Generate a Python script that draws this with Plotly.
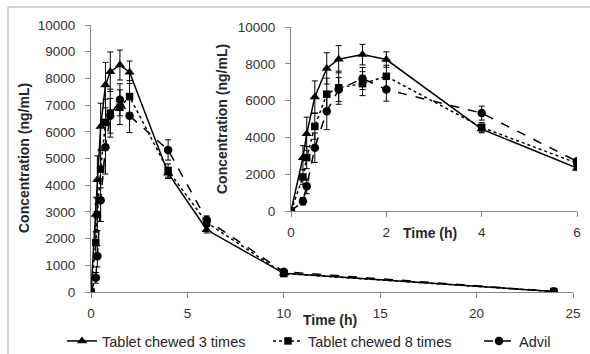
import plotly.graph_objects as go

time_h = [0, 0.25, 0.33, 0.5, 0.75, 1, 1.5, 2, 4, 6, 10, 24]

chew3 = [0, 2900, 4200, 6200, 7750, 8250, 8500, 8230, 4450, 2330, 700, 20]
chew3_sd = [0, 650, 900, 870, 850, 740, 560, 420, 200, 120, 60, 10]

chew8 = [0, 1850, 2900, 4600, 6350, 6700, 6920, 7320, 4550, 2600, 690, 20]
chew8_sd = [0, 400, 600, 700, 870, 900, 650, 600, 250, 150, 60, 10]

advil = [0, 530, 1340, 3440, 5420, 6600, 7200, 6600, 5320, 2700, 760, 20]
advil_sd = [0, 200, 400, 800, 1000, 650, 600, 630, 380, 150, 60, 10]

series_names = ["Tablet chewed 3 times", "Tablet chewed 8 times", "Advil"]
main_xticks = [0, 5, 10, 15, 20, 25]
main_yticks = [0, 1000, 2000, 3000, 4000, 5000, 6000, 7000, 8000, 9000, 10000]
inset_xticks = [0, 2, 4, 6]
inset_yticks = [0, 2000, 4000, 6000, 8000, 10000]

W, H = 590, 354
styles = [
    dict(dash="solid", symbol="triangle-up", size=9),
    dict(dash="dot", symbol="square", size=7.5),
    dict(dash="dash", symbol="circle", size=8.5),
]
legend_ids = ["legend", "legend2", "legend3"]
legend_text_x = [104, 310, 521]
data = [(chew3, chew3_sd), (chew8, chew8_sd), (advil, advil_sd)]

fig = go.Figure()
for (vals, sd), name, st, lg in zip(data, series_names, styles, legend_ids):
    for xa, ya, show in [("x", "y", True), ("x2", "y2", False)]:
        fig.add_trace(go.Scatter(
            x=time_h, y=vals, name=name, mode="lines+markers",
            xaxis=xa, yaxis=ya, showlegend=show, legend=lg,
            line=dict(color="black", width=1.5, dash=st["dash"]),
            marker=dict(symbol=st["symbol"], size=st["size"], color="black"),
            error_y=dict(type="data", array=sd, visible=True, color="black",
                         thickness=1, width=3),
        ))

tickfont = dict(family="Liberation Sans", size=13.5, color="#333333")
axis_common = dict(showgrid=False, zeroline=False, showline=True,
                   linecolor="#868686", linewidth=1, ticks="outside",
                   ticklen=5, tickcolor="#868686", tickfont=tickfont,
                   automargin=False, tickformat="d")

legend_font = dict(family="Liberation Sans", size=14.5, color="#262626")
legends = {}
for lg, tx in zip(legend_ids, legend_text_x):
    legends[lg] = dict(orientation="h", x=(tx - 42) / W, y=1 - 341 / H,
                       xanchor="left", yanchor="middle", font=legend_font,
                       bgcolor="rgba(0,0,0,0)", borderwidth=0)

fig.update_layout(
    width=W, height=H,
    margin=dict(l=0, r=0, t=0, b=0, autoexpand=False),
    paper_bgcolor="white", plot_bgcolor="rgba(0,0,0,0)",
    xaxis=dict(domain=[91 / W, 573 / W], range=[0, 25], tickvals=main_xticks,
               anchor="y", ticklabelstandoff=4, **axis_common),
    yaxis=dict(domain=[(H - 292) / H, (H - 25) / H], range=[0, 10000],
               tickvals=main_yticks, anchor="x", ticklabelstandoff=7, **axis_common),
    xaxis2=dict(domain=[291 / W, 577 / W], range=[0, 6], tickvals=inset_xticks,
                anchor="y2", ticklabelstandoff=4, **axis_common),
    yaxis2=dict(domain=[(H - 211) / H, (H - 27) / H], range=[0, 10000],
                tickvals=inset_yticks, anchor="x2", ticklabelstandoff=7, **axis_common),
    shapes=[dict(type="rect", xref="paper", yref="paper", x0=8 / W, x1=1.02,
                 y0=-0.02, y1=1 - 7 / H, line=dict(color="#a6a6a6", width=1))],
    **legends,
)

title_font = dict(family="Liberation Sans", size=14, color="#262626")
ann = [
    dict(text="<b>Concentration (ng/mL)</b>", x=24 / W, y=1 - 158 / H, textangle=-90),
    dict(text="<b>Concentration (ng/mL)</b>", x=222 / W, y=1 - 119 / H, textangle=-90),
    dict(text="<b>Time (h)</b>", x=330 / W, y=1 - 320 / H, textangle=0),
    dict(text="<b>Time (h)</b>", x=430 / W, y=1 - 233 / H, textangle=0),
]
for a in ann:
    fig.add_annotation(xref="paper", yref="paper", showarrow=False,
                       xanchor="center", yanchor="middle", font=title_font, **a)

fig.write_html(
    "out.html",
    config={"displayModeBar": False},
    post_script="document.body.style.margin='0';document.body.style.padding='0';",
)
